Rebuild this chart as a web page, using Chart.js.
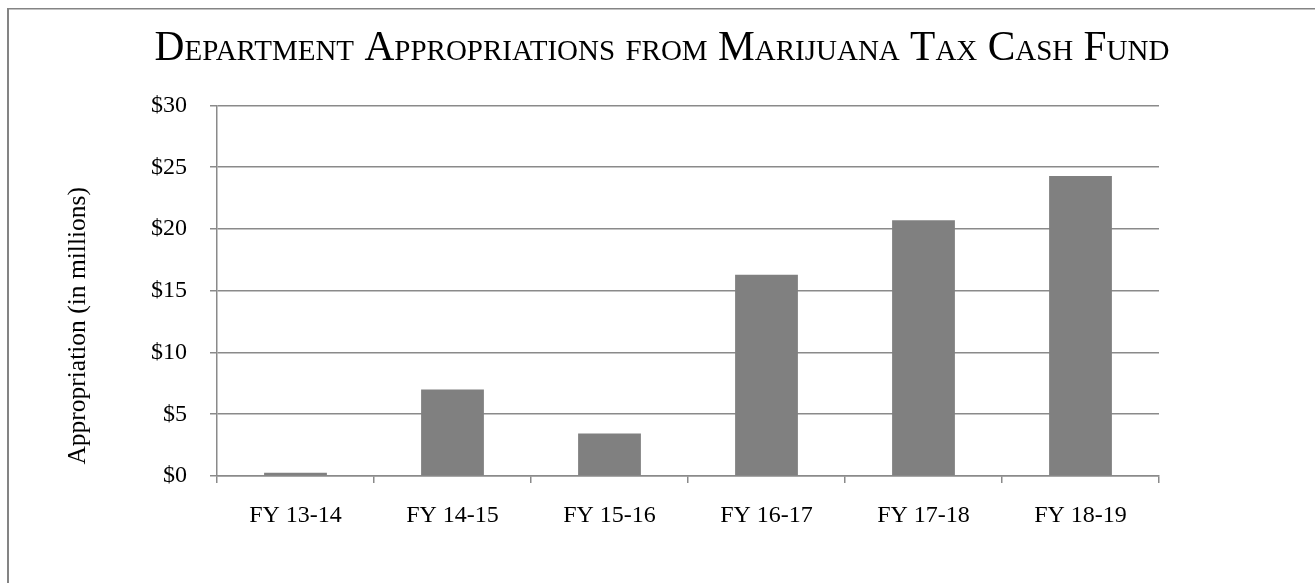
<!DOCTYPE html>
<html>
<head>
<meta charset="utf-8">
<script src="https://cdn.jsdelivr.net/npm/chart.js@4/dist/chart.umd.min.js"></script>
<style>
  html, body { margin: 0; padding: 0; background: #fff; }
  #wrap { width: 1315px; height: 583px; position: relative; }
</style>
</head>
<body>
<div id="wrap"><canvas id="c" width="1315" height="583"></canvas></div>
<script>
const categories = ["FY 13-14", "FY 14-15", "FY 15-16", "FY 16-17", "FY 17-18", "FY 18-19"];
const appropriations = [0.27, 7.0, 3.45, 16.3, 20.7, 24.3];
const yTicks = [0, 5, 10, 15, 20, 25, 30];
const chartTitle = "Department Appropriations from Marijuana Tax Cash Fund";
const yAxisTitle = "Appropriation (in millions)";

const SERIF = "'Liberation Serif', 'DejaVu Serif', serif";
const GRID = "#8a8a8a";

const framePlugin = {
  id: 'frame',
  beforeDraw(chart) {
    const ctx = chart.ctx;
    ctx.save();
    ctx.fillStyle = '#ffffff';
    ctx.fillRect(0, 0, chart.width, chart.height);
    ctx.fillStyle = '#848484';
    ctx.fillRect(7, 8, 2, chart.height - 8);
    ctx.fillRect(7, 8, chart.width - 7, 1.5);
    ctx.restore();
  }
};

new Chart(document.getElementById('c'), {
  type: 'bar',
  data: {
    labels: categories,
    datasets: [{
      data: appropriations,
      backgroundColor: '#808080',
      borderWidth: 0,
      categoryPercentage: 1.0,
      barPercentage: 0.4,
      yAxisID: 'y'
    }]
  },
  options: {
    responsive: false,
    animation: false,
    devicePixelRatio: 1,
    layout: { padding: { left: 9, right: 0, top: 24, bottom: 0 } },
    plugins: {
      legend: { display: false },
      tooltip: { enabled: false },
      title: {
        display: true,
        text: chartTitle,
        color: '#000',
        font: { family: SERIF, size: 41.4, weight: 'small-caps', lineHeight: 1.2 },
        padding: { top: 0, bottom: 31.8 }
      }
    },
    scales: {
      x: {
        grid: { display: true, drawOnChartArea: false, drawTicks: true, tickLength: 7, color: GRID, lineWidth: 1.5, offset: true },
        border: { display: true, color: GRID, width: 1.5 },
        ticks: { color: '#000', font: { family: SERIF, size: 24 }, padding: 18, maxRotation: 0 },
        afterFit(scale) { scale.height = 107; }
      },
      y: {
        position: 'left',
        min: 0, max: 30,
        afterBuildTicks(scale) { scale.ticks = yTicks.map(v => ({ value: v })); },
        grid: { color: GRID, lineWidth: 1.5, drawTicks: true, tickLength: 7 },
        border: { display: true, color: GRID, width: 1.5 },
        ticks: {
          color: '#000', font: { family: SERIF, size: 24 }, padding: 23,
          callback: (v) => '$' + v
        },
        title: {
          display: true,
          text: yAxisTitle + '           ',
          color: '#000',
          font: { family: SERIF, size: 25.5, lineHeight: 1.2 },
          padding: { top: 53.7, bottom: 0 }
        },
        afterFit(scale) { scale.width = 208; }
      },
      yRight: {
        position: 'right',
        display: true,
        min: 0, max: 30,
        grid: { display: false, drawOnChartArea: false, drawTicks: false },
        border: { display: false },
        ticks: { display: false },
        afterFit(scale) { scale.width = 156; }
      }
    }
  },
  plugins: [framePlugin]
});
</script>
</body>
</html>
